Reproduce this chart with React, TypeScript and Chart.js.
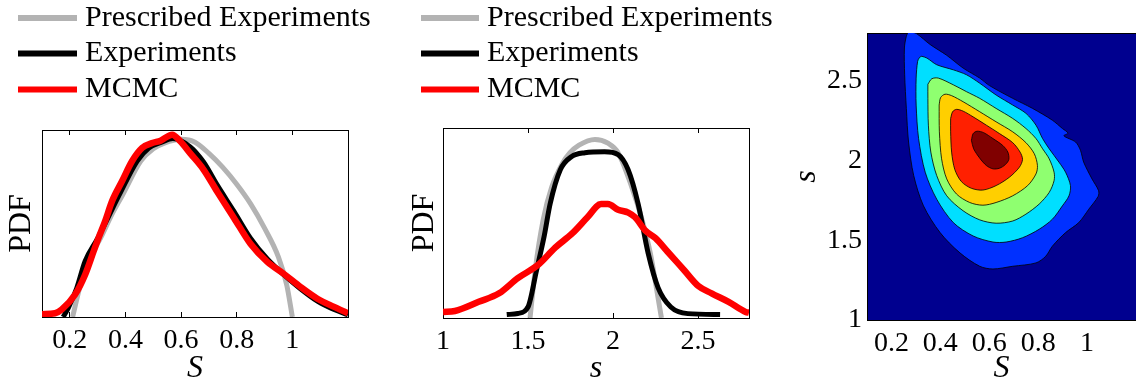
import React, { useEffect, useRef } from "react";
import { Chart, registerables } from "chart.js";

Chart.register(...registerables);

// ---------------- DATA ----------------
// Panel 1: PDF of S (normalised PDF units, no y tick labels in the original)
const p1Ticks = [0.2, 0.4, 0.6, 0.8, 1];
const p1PrescribedX = [0.21, 0.235, 0.265, 0.31, 0.35, 0.39, 0.455, 0.5, 0.54, 0.6, 0.65, 0.7, 0.75, 0.8, 0.85, 0.9, 0.95, 0.98, 1.0];
const p1PrescribedY = [0, 0.155, 0.298, 0.42, 0.545, 0.654, 0.834, 0.9, 0.93, 0.95, 0.935, 0.875, 0.8, 0.71, 0.605, 0.475, 0.32, 0.17, 0];
const p1ExperimentsX = [0.176, 0.195, 0.225, 0.255, 0.3, 0.34, 0.378, 0.442, 0.484, 0.53, 0.57, 0.633, 0.68, 0.73, 0.79, 0.85, 0.91, 0.97, 1.03, 1.09, 1.15, 1.2];
const p1ExperimentsY = [0, 0.05, 0.155, 0.298, 0.42, 0.54, 0.654, 0.834, 0.904, 0.935, 0.955, 0.91, 0.83, 0.705, 0.565, 0.42, 0.31, 0.225, 0.15, 0.085, 0.04, 0.012];
const p1McmcX = [0.1, 0.147, 0.171, 0.219, 0.255, 0.286, 0.303, 0.327, 0.352, 0.388, 0.424, 0.46, 0.496, 0.526, 0.568, 0.597, 0.633, 0.68, 0.73, 0.79, 0.85, 0.91, 0.97, 1.03, 1.09, 1.15, 1.2];
const p1McmcY = [0.015, 0.02, 0.04, 0.12, 0.226, 0.353, 0.422, 0.513, 0.62, 0.727, 0.834, 0.904, 0.93, 0.943, 0.975, 0.94, 0.875, 0.79, 0.67, 0.53, 0.39, 0.295, 0.23, 0.16, 0.098, 0.054, 0.02];

// Panel 2: PDF of s
const p2Ticks = [1, 1.5, 2, 2.5];
const p2PrescribedX = [1.512, 1.542, 1.59, 1.64, 1.7, 1.747, 1.8, 1.894, 1.97, 2.03, 2.11, 2.17, 2.22, 2.255, 2.285];
const p2PrescribedY = [0, 0.25, 0.52, 0.69, 0.81, 0.87, 0.91, 0.94, 0.92, 0.87, 0.69, 0.52, 0.34, 0.16, 0];
const p2ExperimentsX = [1.375, 1.44, 1.5, 1.55, 1.595, 1.63, 1.69, 1.757, 1.835, 1.95, 2.03, 2.089, 2.148, 2.207, 2.265, 2.34, 2.44, 2.63];
const p2ExperimentsY = [0.018, 0.024, 0.058, 0.25, 0.43, 0.6, 0.78, 0.85, 0.87, 0.875, 0.86, 0.78, 0.6, 0.34, 0.16, 0.058, 0.023, 0.018];
const p2McmcX = [1.0, 1.07, 1.21, 1.33, 1.44, 1.56, 1.66, 1.76, 1.85, 1.93, 1.97, 2.03, 2.09, 2.13, 2.19, 2.25, 2.32, 2.42, 2.5, 2.58, 2.68, 2.78, 2.8];
const p2McmcY = [0.032, 0.037, 0.085, 0.13, 0.21, 0.28, 0.37, 0.445, 0.53, 0.6, 0.6, 0.57, 0.555, 0.53, 0.46, 0.42, 0.35, 0.25, 0.17, 0.13, 0.085, 0.032, 0.028];

// Panel 3: joint PDF contour levels, each as a closed outline of [S, s] pairs
const p3XTicks = [0.2, 0.4, 0.6, 0.8, 1];
const p3YTicks = [1, 1.5, 2, 2.5];
const level1Outline: [number, number][] = [[0.284, 2.805], [0.304, 2.795], [0.358, 2.728], [0.426, 2.66], [0.493, 2.58], [0.561, 2.517], [0.601, 2.47], [0.696, 2.39], [0.777, 2.327], [0.858, 2.253], [0.899, 2.201], [0.922, 2.172], [0.905, 2.155], [0.953, 2.116], [0.973, 2.064], [0.986, 1.99], [1.02, 1.885], [1.047, 1.811], [1.045, 1.775], [1.007, 1.695], [0.966, 1.611], [0.912, 1.548], [0.858, 1.463], [0.831, 1.4], [0.791, 1.358], [0.696, 1.337], [0.615, 1.32], [0.561, 1.337], [0.48, 1.421], [0.399, 1.548], [0.331, 1.716], [0.291, 1.906], [0.27, 2.116], [0.261, 2.327], [0.254, 2.538], [0.253, 2.706], [0.261, 2.78], [0.27, 2.805]];
const level2Outline: [number, number][] = [[0.324, 2.654], [0.345, 2.643], [0.385, 2.601], [0.453, 2.569], [0.507, 2.538], [0.561, 2.485], [0.628, 2.411], [0.696, 2.348], [0.75, 2.296], [0.791, 2.222], [0.818, 2.138], [0.845, 2.074], [0.885, 1.99], [0.912, 1.927], [0.932, 1.843], [0.926, 1.779], [0.899, 1.716], [0.858, 1.632], [0.804, 1.569], [0.736, 1.516], [0.669, 1.489], [0.615, 1.489], [0.534, 1.527], [0.453, 1.611], [0.385, 1.758], [0.338, 1.927], [0.311, 2.138], [0.301, 2.348], [0.301, 2.517], [0.307, 2.622], [0.315, 2.647]];
const level3Outline: [number, number][] = [[0.349, 2.479], [0.365, 2.513], [0.392, 2.517], [0.453, 2.475], [0.507, 2.432], [0.561, 2.39], [0.628, 2.327], [0.696, 2.264], [0.75, 2.201], [0.791, 2.138], [0.818, 2.074], [0.845, 2.011], [0.865, 1.927], [0.865, 1.874], [0.845, 1.8], [0.804, 1.727], [0.75, 1.664], [0.696, 1.621], [0.628, 1.607], [0.561, 1.628], [0.493, 1.685], [0.426, 1.779], [0.385, 1.906], [0.361, 2.053], [0.351, 2.222], [0.349, 2.39]];
const level4Outline: [number, number][] = [[0.395, 2.348], [0.401, 2.395], [0.419, 2.416], [0.446, 2.407], [0.493, 2.369], [0.561, 2.306], [0.628, 2.243], [0.696, 2.18], [0.75, 2.112], [0.784, 2.043], [0.797, 1.969], [0.791, 1.916], [0.757, 1.843], [0.696, 1.779], [0.628, 1.737], [0.574, 1.72], [0.52, 1.737], [0.466, 1.79], [0.426, 1.885], [0.405, 2.011], [0.396, 2.18]];
const level5Outline: [number, number][] = [[0.442, 2.264], [0.45, 2.306], [0.466, 2.321], [0.493, 2.31], [0.534, 2.274], [0.588, 2.222], [0.642, 2.169], [0.696, 2.112], [0.726, 2.053], [0.736, 2.007], [0.723, 1.958], [0.682, 1.895], [0.628, 1.843], [0.574, 1.815], [0.527, 1.826], [0.486, 1.868], [0.459, 1.944], [0.446, 2.053], [0.442, 2.18]];
const level6Outline: [number, number][] = [[0.527, 2.127], [0.534, 2.169], [0.55, 2.184], [0.577, 2.175], [0.615, 2.138], [0.655, 2.095], [0.676, 2.053], [0.68, 2.007], [0.666, 1.975], [0.642, 1.952], [0.615, 1.948], [0.588, 1.969], [0.561, 2.015], [0.536, 2.074]];
const levelOutlines = [level1Outline, level2Outline, level3Outline, level4Outline, level5Outline, level6Outline];
const levelColors = ["#0030FF", "#00DFFF", "#8FFF70", "#FFCF00", "#FF2000", "#800000"];
const NAVY = "#00008F";

const seriesLabels = ["Prescribed Experiments", "Experiments", "MCMC"];
const seriesColors = ["#B3B3B3", "#000000", "#FF0000"];
const seriesWidths = [5, 5, 6.5];

// ---------------- HELPERS ----------------
const SERIF = "'Liberation Serif', 'DejaVu Serif', serif";
const tickFont = { family: SERIF, size: 28 };

function curve(i: number, xs: number[], ys: number[]) {
  return {
    label: seriesLabels[i],
    data: xs.map((x, k) => ({ x, y: ys[k] })),
    borderColor: seriesColors[i],
    backgroundColor: seriesColors[i],
    borderWidth: seriesWidths[i],
    pointRadius: 0,
    cubicInterpolationMode: "monotone",
    fill: false,
    order: 3 - i,
  };
}

function legendPlugin(swatchX: number, swatchW: number, textX: number, rowY: number[]) {
  return {
    id: "lineLegend",
    afterDraw(chart: any) {
      const ctx = chart.ctx;
      ctx.save();
      ctx.font = `30px ${SERIF}`;
      ctx.textBaseline = "middle";
      ctx.textAlign = "left";
      chart.data.datasets.forEach((ds: any, i: number) => {
        const y = rowY[i];
        ctx.fillStyle = ds.borderColor;
        ctx.fillRect(swatchX, y - 3, swatchW, 6);
        ctx.fillStyle = "#000";
        ctx.fillText(ds.label, textX, y);
      });
      ctx.restore();
    },
  };
}

function bottomAxis(min: number, max: number, ticks: number[], title: string, h: number, inward: boolean, z = 0) {
  return {
    type: "linear",
    position: "bottom",
    min,
    max,
    z,
    afterBuildTicks: (s: any) => {
      s.ticks = ticks.map((v) => ({ value: v }));
    },
    afterFit: (s: any) => {
      s.height = h;
    },
    ticks: {
      color: "#000",
      font: tickFont,
      padding: inward ? 12 : 7,
      maxRotation: 0,
      autoSkip: false,
      callback: (v: any) => String(v),
    },
    grid: { drawOnChartArea: false, drawTicks: inward, tickLength: -5, color: "#000", lineWidth: 1 },
    border: { display: true, color: "#000", width: 1 },
    title: {
      display: true,
      text: title,
      color: "#000",
      font: { family: SERIF, size: 32, style: "italic", lineHeight: 1 },
      padding: 0,
    },
  };
}

function topAxis(min: number, max: number, ticks: number[], inward: boolean, z = 0) {
  return {
    type: "linear",
    position: "top",
    min,
    max,
    z,
    afterBuildTicks: (s: any) => {
      s.ticks = ticks.map((v) => ({ value: v }));
    },
    afterFit: (s: any) => {
      s.height = 0;
    },
    ticks: { display: false },
    grid: { drawOnChartArea: false, drawTicks: inward, tickLength: -5, color: "#000", lineWidth: 1 },
    border: { display: true, color: "#000", width: 1 },
  };
}

function rightAxis(min: number, max: number, z = 0) {
  return {
    type: "linear",
    position: "right",
    min,
    max,
    z,
    afterFit: (s: any) => {
      s.width = 0;
    },
    ticks: { display: false },
    grid: { drawOnChartArea: false, drawTicks: false },
    border: { display: true, color: "#000", width: 1 },
  };
}

function pdfAxis(w: number, titlePad: number) {
  return {
    type: "linear",
    position: "left",
    min: 0,
    max: 1,
    afterFit: (s: any) => {
      s.width = w;
    },
    ticks: { display: false },
    grid: { drawOnChartArea: false, drawTicks: false },
    border: { display: true, color: "#000", width: 1 },
    title: {
      display: true,
      text: "PDF",
      color: "#000",
      font: { family: SERIF, size: 32, lineHeight: 1 },
      padding: { top: titlePad, bottom: 0 },
    },
  };
}

const baseOptions = {
  responsive: false,
  animation: false,
  devicePixelRatio: 1,
  events: [],
  plugins: { legend: { display: false }, tooltip: { enabled: false } },
};

// ---------------- CONFIGS ----------------
function panel1Config(): any {
  return {
    type: "line",
    data: {
      datasets: [
        curve(0, p1PrescribedX, p1PrescribedY),
        curve(1, p1ExperimentsX, p1ExperimentsY),
        curve(2, p1McmcX, p1McmcY),
      ],
    },
    options: {
      ...baseOptions,
      layout: { padding: { left: 0, right: 32, top: 130, bottom: 0 } },
      scales: {
        x: bottomAxis(0.1, 1.2, p1Ticks, "S", 68, true),
        x2: topAxis(0.1, 1.2, p1Ticks, true),
        y: pdfAxis(42, 6),
        y2: rightAxis(0, 1),
      },
    },
    plugins: [legendPlugin(18, 59, 85, [18, 53.5, 89.5])],
  };
}

function panel2Config(): any {
  return {
    type: "line",
    data: {
      datasets: [
        curve(0, p2PrescribedX, p2PrescribedY),
        curve(1, p2ExperimentsX, p2ExperimentsY),
        curve(2, p2McmcX, p2McmcY),
      ],
    },
    options: {
      ...baseOptions,
      layout: { padding: { left: 23, right: 31, top: 128, bottom: 0 } },
      scales: {
        x: bottomAxis(1, 2.8, p2Ticks, "s", 67, true),
        x2: topAxis(1, 2.8, p2Ticks, true),
        y: pdfAxis(40, 6),
        y2: rightAxis(0, 1),
      },
    },
    plugins: [legendPlugin(41, 58, 107, [18, 53.5, 89.5])],
  };
}

const navyBackground = {
  id: "navyBackground",
  beforeDraw(chart: any) {
    const { ctx, chartArea: a } = chart;
    ctx.save();
    ctx.fillStyle = NAVY;
    ctx.fillRect(a.left, a.top, a.right - a.left, a.bottom - a.top);
    ctx.restore();
  },
};

function panel3Config(): any {
  return {
    type: "line",
    data: {
      datasets: levelOutlines.map((pts, i) => ({
        label: `level ${i + 1}`,
        data: [...pts, pts[0]].map(([x, y]) => ({ x, y })),
        borderColor: "#000",
        borderWidth: 0.8,
        backgroundColor: levelColors[i],
        fill: "shape",
        pointRadius: 0,
        tension: 0.3,
        order: levelOutlines.length - i,
      })),
    },
    options: {
      ...baseOptions,
      layout: { padding: { left: 0, right: 0, top: 33, bottom: 0 } },
      scales: {
        x: bottomAxis(0.1, 1.2, p3XTicks, "S", 65, false, 1),
        x2: topAxis(0.1, 1.2, p3XTicks, false, 1),
        y: {
          type: "linear",
          position: "left",
          min: 1,
          max: 2.8,
          z: 1,
          afterBuildTicks: (s: any) => {
            s.ticks = p3YTicks.map((v) => ({ value: v }));
          },
          afterFit: (s: any) => {
            s.width = 87;
          },
          ticks: { color: "#000", font: tickFont, padding: 5, callback: (v: any) => String(v) },
          grid: { drawOnChartArea: false, drawTicks: false },
          border: { display: true, color: "#000", width: 1 },
          title: {
            display: true,
            text: "s",
            color: "#000",
            font: { family: SERIF, size: 32, style: "italic", lineHeight: 1 },
            padding: { top: 11, bottom: 0 },
          },
        },
        y2: rightAxis(1, 2.8, 1),
      },
    },
    plugins: [navyBackground],
  };
}

// ---------------- COMPONENTS ----------------
function ChartCanvas({ left, width, height, make }: { left: number; width: number; height: number; make: () => any }) {
  const ref = useRef<HTMLCanvasElement>(null);
  useEffect(() => {
    const chart = new Chart(ref.current as HTMLCanvasElement, make());
    return () => chart.destroy();
  }, []);
  return (
    <canvas
      ref={ref}
      width={width}
      height={height}
      style={{ position: "absolute", left, top: 0, width, height, display: "block" }}
    />
  );
}

export default function App() {
  return (
    <div style={{ position: "absolute", left: 0, top: 0, width: 1136, height: 385, background: "#fff", overflow: "hidden" }}>
      <ChartCanvas left={0} width={380} height={385} make={panel1Config} />
      <ChartCanvas left={380} width={400} height={385} make={panel2Config} />
      <ChartCanvas left={780} width={356} height={385} make={panel3Config} />
    </div>
  );
}
